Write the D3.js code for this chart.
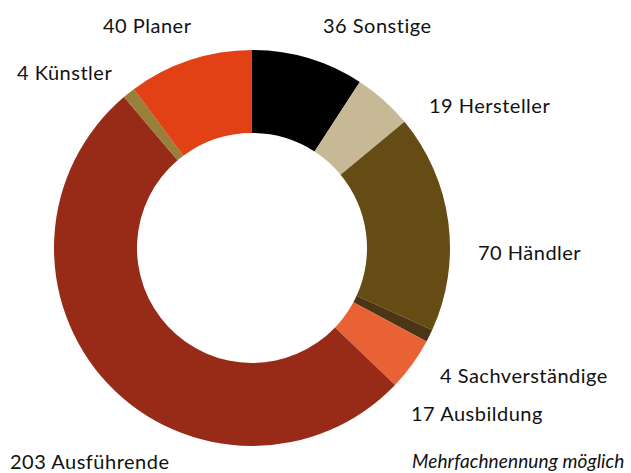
<!DOCTYPE html>
<html>
<head>
<meta charset="utf-8">
<script src="https://cdn.jsdelivr.net/npm/d3@7"></script>
<style>
  body { margin: 0; background: #fff; }
  text { font-family: Lato, "Open Sans", sans-serif; fill: #111; }
</style>
</head>
<body>
<div id="chart"></div>
<script>
// Chart data
const categories = ['Sonstige', 'Hersteller', 'Händler', 'Sachverständige', 'Ausbildung', 'Ausführende', 'Künstler', 'Planer'];
const counts = [36, 19, 70, 4, 17, 203, 4, 40];
const colors = ['#000000', '#c8b996', '#654b14', '#4b3515', '#e96236', '#982b17', '#98803a', '#e24015'];
const note = 'Mehrfachnennung möglich';

const width = 631;
const height = 473;
const cx = 252, cy = 248;
const outerR = 198, innerR = 115;

// label anchor points (left x, baseline y)
const labelPos = {
  'Sonstige': [323, 33],
  'Hersteller': [429, 113],
  'Händler': [478, 260],
  'Sachverständige': [440, 383],
  'Ausbildung': [411, 421],
  'Ausführende': [10, 469],
  'Künstler': [17, 80],
  'Planer': [103, 33]
};

const svg = d3.select('#chart')
  .append('svg')
  .attr('width', width)
  .attr('height', height);

const data = categories.map((c, i) => ({ name: c, value: counts[i], color: colors[i] }));

const pie = d3.pie().sort(null).value(d => d.value);
const arc = d3.arc().innerRadius(innerR).outerRadius(outerR);

const g = svg.append('g').attr('transform', 'translate(' + cx + ',' + cy + ')');

g.selectAll('path')
  .data(pie(data))
  .enter()
  .append('path')
  .attr('d', arc)
  .attr('fill', d => d.data.color);

// Labels
svg.selectAll('.label')
  .data(data)
  .enter()
  .append('text')
  .attr('class', 'label')
  .attr('x', d => labelPos[d.name][0])
  .attr('y', d => labelPos[d.name][1])
  .style('font-size', '20px')
  .style('letter-spacing', '0.5px')
  .text(d => d.value + ' ' + d.name);

// Footnote
svg.append('text')
  .attr('x', 412)
  .attr('y', 468)
  .style('font-size', '19px')
  .style('font-style', 'italic')
  .style('letter-spacing', '0.1px')
  .text(note);
</script>
</body>
</html>
